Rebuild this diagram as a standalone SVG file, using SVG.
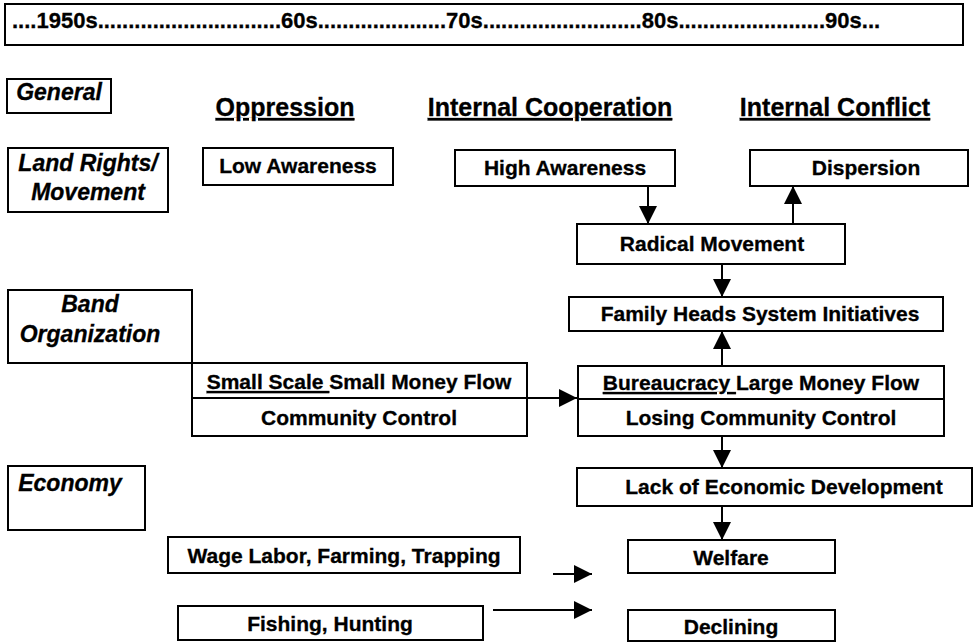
<svg xmlns="http://www.w3.org/2000/svg" width="973" height="644" viewBox="0 0 973 644">
<style>
.box{fill:#fff;stroke:#000;stroke-width:2}
.ln{fill:none;stroke:#000;stroke-width:2}
text{font-family:"Liberation Sans",Arial,Helvetica,sans-serif;font-weight:bold;fill:#000;stroke:#000;stroke-width:0.3}
.t{font-size:21px;text-anchor:middle}
.it{font-size:23px;font-style:italic;text-anchor:middle}
.h{font-size:25px;text-anchor:middle;text-decoration:underline}
.tl{font-size:22px}
</style>
<defs>
<marker id="ah" markerUnits="userSpaceOnUse" markerWidth="20" markerHeight="20" refX="18" refY="9" orient="auto">
<path d="M0,0 L18,9 L0,18 Z" fill="#000"/>
</marker>
</defs>
<g id="timeline">
<rect class="box" x="5" y="4" width="958" height="41"/>
<text class="tl" x="12" y="28">....1950s..............................60s.....................70s..........................80s........................90s...</text>
</g>
<g id="hdr-oppression"><text class="h" x="285" y="116">Oppression</text></g>
<g id="hdr-coop"><text class="h" x="550" y="116">Internal Cooperation</text></g>
<g id="hdr-conflict"><text class="h" x="835" y="116">Internal Conflict</text></g>
<g id="general"><rect class="box" x="7" y="79" width="104" height="34"/><text class="it" x="59" y="100">General</text></g>
<g id="landrights"><rect class="box" x="8" y="148" width="160" height="64"/><text class="it" x="88" y="171">Land Rights/</text><text class="it" x="88" y="200">Movement</text></g>
<g id="low-awareness"><rect class="box" x="203" y="148" width="190" height="37"/><text class="t" x="298" y="173">Low Awareness</text></g>
<g id="high-awareness"><rect class="box" x="455" y="150" width="220" height="36"/><text class="t" x="565" y="175">High Awareness</text></g>
<g id="dispersion"><rect class="box" x="750" y="150" width="218" height="36"/><text class="t" x="866" y="175">Dispersion</text></g>
<g id="radical"><rect class="box" x="577" y="224" width="268" height="40"/><text class="t" x="712" y="251">Radical Movement</text></g>
<g id="family"><rect class="box" x="569" y="297" width="374" height="34"/><text class="t" x="760" y="321">Family Heads System Initiatives</text></g>
<g id="band"><rect class="box" x="8" y="290" width="184" height="73"/><text class="it" x="90" y="312">Band</text><text class="it" x="90" y="342">Organization</text></g>
<g id="smallscale"><rect class="box" x="192" y="363" width="335" height="73"/><text class="t" x="359" y="389"><tspan text-decoration="underline">Small Scale </tspan>Small Money Flow</text><text class="t" x="359" y="425">Community Control</text></g>
<g id="bureaucracy"><rect class="box" x="578" y="366" width="366" height="70"/><line class="ln" x1="578" y1="399" x2="944" y2="399"/><text class="t" x="761" y="390"><tspan text-decoration="underline">Bureaucracy </tspan>Large Money Flow</text><text class="t" x="761" y="425">Losing Community Control</text></g>
<g id="lack"><rect class="box" x="577" y="468" width="395" height="38"/><text class="t" x="784" y="494">Lack of Economic Development</text></g>
<g id="economy"><rect class="box" x="8" y="466" width="137" height="64"/><text class="it" x="70" y="491">Economy</text></g>
<g id="wage"><rect class="box" x="168" y="537" width="352" height="36"/><text class="t" x="344" y="563">Wage Labor, Farming, Trapping</text></g>
<g id="fishing"><rect class="box" x="178" y="606" width="305" height="34"/><text class="t" x="330" y="631">Fishing, Hunting</text></g>
<g id="welfare"><rect class="box" x="628" y="540" width="207" height="33"/><text class="t" x="731" y="565">Welfare</text></g>
<g id="declining"><rect class="box" x="628" y="610" width="207" height="31"/><text class="t" x="731" y="634">Declining</text></g>
<g id="connectors">
<line class="ln" x1="648" y1="186" x2="648" y2="224" marker-end="url(#ah)"/>
<line class="ln" x1="793" y1="224" x2="793" y2="186" marker-end="url(#ah)"/>
<line class="ln" x1="722" y1="264" x2="722" y2="297" marker-end="url(#ah)"/>
<line class="ln" x1="722" y1="366" x2="722" y2="331" marker-end="url(#ah)"/>
<line class="ln" x1="192" y1="398" x2="577" y2="398" marker-end="url(#ah)"/>
<line class="ln" x1="722" y1="436" x2="722" y2="468" marker-end="url(#ah)"/>
<line class="ln" x1="722" y1="506" x2="722" y2="540" marker-end="url(#ah)"/>
<line class="ln" x1="553" y1="574" x2="592" y2="574" marker-end="url(#ah)"/>
<line class="ln" x1="493" y1="610" x2="592" y2="610" marker-end="url(#ah)"/>
</g>
</svg>
